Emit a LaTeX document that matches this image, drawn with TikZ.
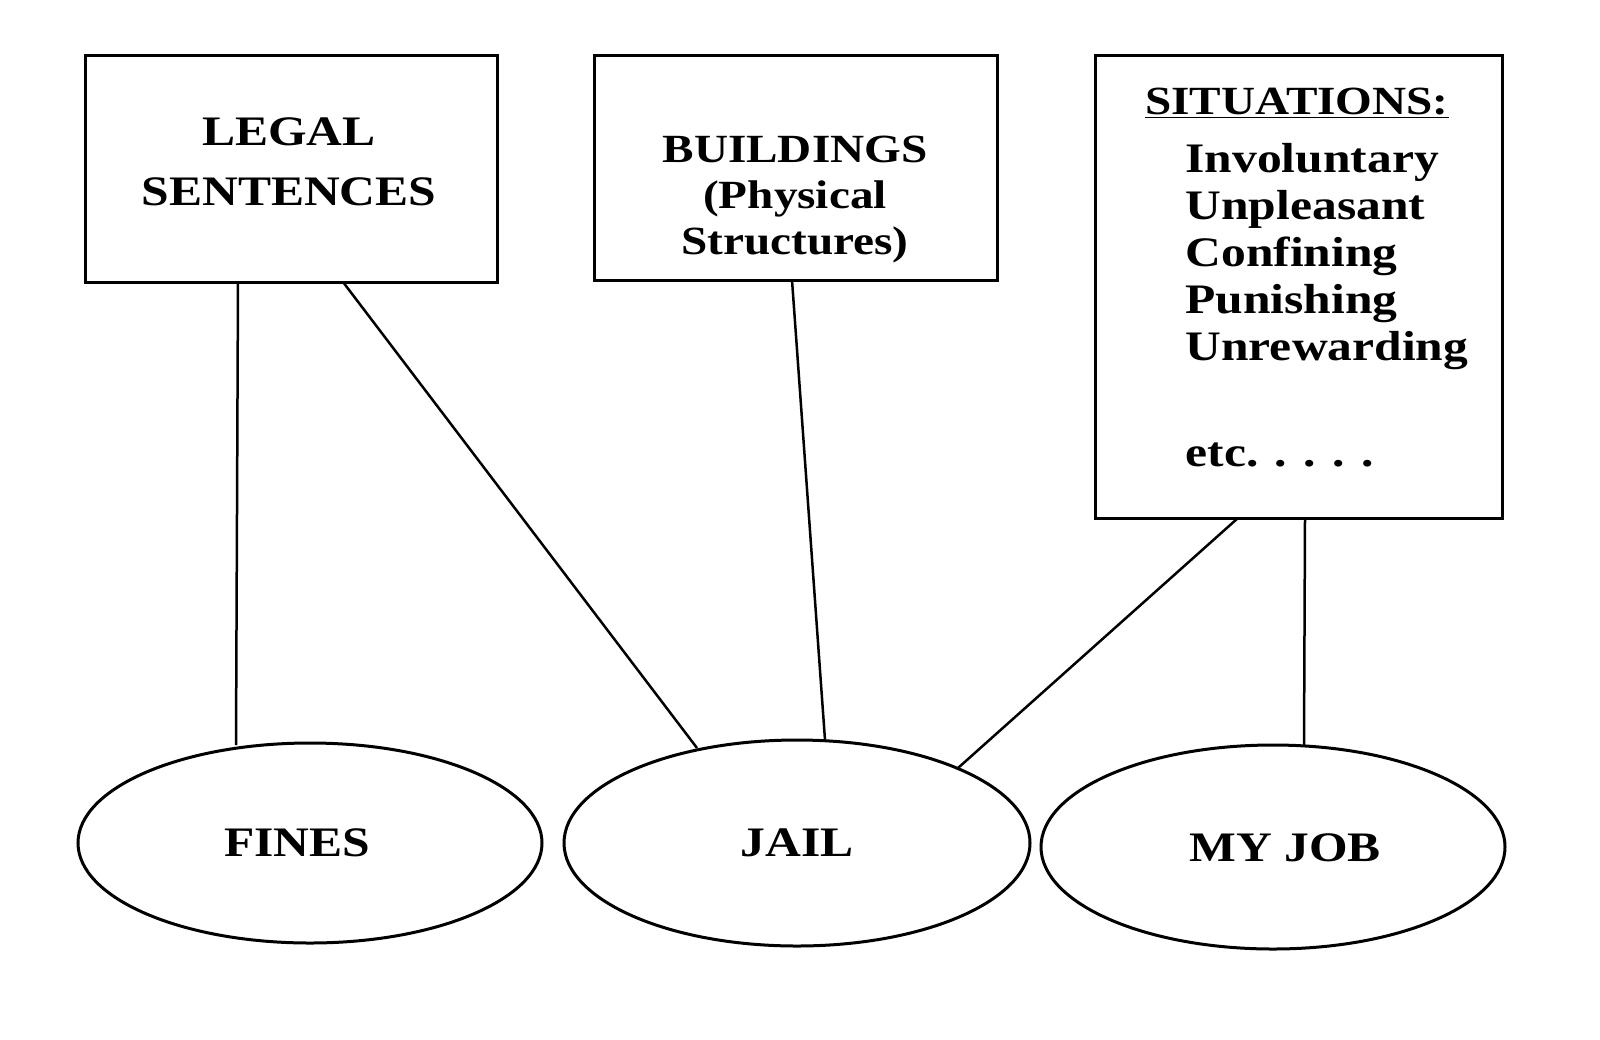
\documentclass[tikz,border=0pt]{standalone}
\usepackage{fontspec}
\setmainfont{Liberation Serif}[FakeStretch=1.18]
\begin{document}
\begin{tikzpicture}[x=1pt,y=-1pt,
 box/.style={draw,line width=3pt},
 ell/.style={draw,line width=3pt},
 lab/.style={font=\fontsize{42}{44}\selectfont\bfseries,align=center},
 ln/.style={line width=2.5pt}]
\useasboundingbox (0,0) rectangle (1600,1039);
\draw[box] (85,55) rectangle (497,282);
\draw[box] (594,55) rectangle (997,280);
\draw[box] (1095,55) rectangle (1502,518);
\node[lab,font=\fontsize{42}{60}\selectfont\bfseries] (legal) at (289,162) {LEGAL\\SENTENCES};
\node[lab,font=\fontsize{40}{46}\selectfont\bfseries] (bld) at (795,200) {BUILDINGS\\(Physical\\Structures)};
\node[lab,font=\fontsize{40}{42}\selectfont\bfseries] (sit) at (1297,103) {\underline{SITUATIONS:}};
\node[lab,anchor=north west,align=left,font=\fontsize{42}{47}\selectfont\bfseries] (list) at (1182,140) {Involuntary\\Unpleasant\\Confining\\Punishing\\Unrewarding};
\node[lab,anchor=west] (etc) at (1182,455) {etc. . . . .};
\draw[ell] (310,843) ellipse [x radius=232, y radius=100];
\draw[ell] (797,843) ellipse [x radius=233, y radius=103];
\draw[ell] (1273,847) ellipse [x radius=232, y radius=102];
\node[lab] (fines) at (297,843) {FINES};
\node[lab] (jail) at (797,843) {JAIL};
\node[lab] (job) at (1285,848) {MY JOB};
\coordinate (a1) at (238,282); \coordinate (a2) at (236,745);
\coordinate (b1) at (343,282); \coordinate (b2) at (697,748);
\coordinate (c1) at (792,280); \coordinate (c2) at (825,740);
\coordinate (d1) at (1238,518); \coordinate (d2) at (958,768);
\coordinate (e1) at (1305,518); \coordinate (e2) at (1304,745);
\draw[ln] (a1)--(a2); \draw[ln] (b1)--(b2); \draw[ln] (c1)--(c2);
\draw[ln] (d1)--(d2); \draw[ln] (e1)--(e2);
\end{tikzpicture}
\end{document}
